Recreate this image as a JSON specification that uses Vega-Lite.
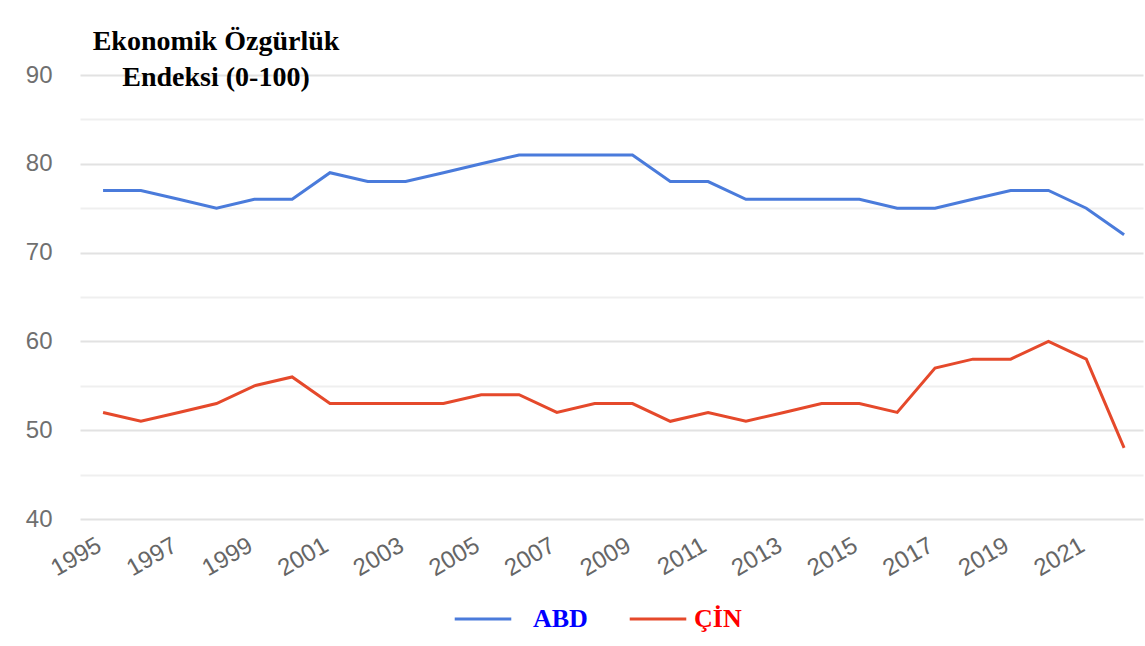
{
  "$schema": "https://vega.github.io/schema/vega-lite/v6.json",
  "width": 1063,
  "height": 444,
  "autosize": {"type": "none"},
  "padding": {"left": 80, "top": 75, "right": 2, "bottom": 127},
  "background": "#ffffff",
  "title": {
    "text": ["Ekonomik Özgürlük", "Endeksi (0-100)"],
    "anchor": "start",
    "frame": "group",
    "align": "center",
    "dx": 136,
    "dy": 57,
    "baseline": "bottom",
    "font": "Liberation Serif",
    "fontSize": 28,
    "fontWeight": "bold",
    "color": "#000000",
    "lineHeight": 36,
    "offset": 0
  },
  "data": {
    "values": [
      {"year": 1995, "country": "ABD", "value": 77},
      {"year": 1996, "country": "ABD", "value": 77},
      {"year": 1997, "country": "ABD", "value": 76},
      {"year": 1998, "country": "ABD", "value": 75},
      {"year": 1999, "country": "ABD", "value": 76},
      {"year": 2000, "country": "ABD", "value": 76},
      {"year": 2001, "country": "ABD", "value": 79},
      {"year": 2002, "country": "ABD", "value": 78},
      {"year": 2003, "country": "ABD", "value": 78},
      {"year": 2004, "country": "ABD", "value": 79},
      {"year": 2005, "country": "ABD", "value": 80},
      {"year": 2006, "country": "ABD", "value": 81},
      {"year": 2007, "country": "ABD", "value": 81},
      {"year": 2008, "country": "ABD", "value": 81},
      {"year": 2009, "country": "ABD", "value": 81},
      {"year": 2010, "country": "ABD", "value": 78},
      {"year": 2011, "country": "ABD", "value": 78},
      {"year": 2012, "country": "ABD", "value": 76},
      {"year": 2013, "country": "ABD", "value": 76},
      {"year": 2014, "country": "ABD", "value": 76},
      {"year": 2015, "country": "ABD", "value": 76},
      {"year": 2016, "country": "ABD", "value": 75},
      {"year": 2017, "country": "ABD", "value": 75},
      {"year": 2018, "country": "ABD", "value": 76},
      {"year": 2019, "country": "ABD", "value": 77},
      {"year": 2020, "country": "ABD", "value": 77},
      {"year": 2021, "country": "ABD", "value": 75},
      {"year": 2022, "country": "ABD", "value": 72},
      {"year": 1995, "country": "ÇİN", "value": 52},
      {"year": 1996, "country": "ÇİN", "value": 51},
      {"year": 1997, "country": "ÇİN", "value": 52},
      {"year": 1998, "country": "ÇİN", "value": 53},
      {"year": 1999, "country": "ÇİN", "value": 55},
      {"year": 2000, "country": "ÇİN", "value": 56},
      {"year": 2001, "country": "ÇİN", "value": 53},
      {"year": 2002, "country": "ÇİN", "value": 53},
      {"year": 2003, "country": "ÇİN", "value": 53},
      {"year": 2004, "country": "ÇİN", "value": 53},
      {"year": 2005, "country": "ÇİN", "value": 54},
      {"year": 2006, "country": "ÇİN", "value": 54},
      {"year": 2007, "country": "ÇİN", "value": 52},
      {"year": 2008, "country": "ÇİN", "value": 53},
      {"year": 2009, "country": "ÇİN", "value": 53},
      {"year": 2010, "country": "ÇİN", "value": 51},
      {"year": 2011, "country": "ÇİN", "value": 52},
      {"year": 2012, "country": "ÇİN", "value": 51},
      {"year": 2013, "country": "ÇİN", "value": 52},
      {"year": 2014, "country": "ÇİN", "value": 53},
      {"year": 2015, "country": "ÇİN", "value": 53},
      {"year": 2016, "country": "ÇİN", "value": 52},
      {"year": 2017, "country": "ÇİN", "value": 57},
      {"year": 2018, "country": "ÇİN", "value": 58},
      {"year": 2019, "country": "ÇİN", "value": 58},
      {"year": 2020, "country": "ÇİN", "value": 60},
      {"year": 2021, "country": "ÇİN", "value": 58},
      {"year": 2022, "country": "ÇİN", "value": 48}
    ]
  },
  "mark": {"type": "line", "strokeWidth": 3, "clip": false},
  "encoding": {
    "x": {
      "field": "year",
      "type": "quantitative",
      "scale": {"domain": [1994.39, 2022.5], "nice": false, "zero": false},
      "axis": {
        "title": null,
        "values": [1995, 1997, 1999, 2001, 2003, 2005, 2007, 2009, 2011, 2013, 2015, 2017, 2019, 2021],
        "format": "d",
        "labelAngle": -30,
        "labelAlign": "right",
        "labelBaseline": "top",
        "labelPadding": 14,
        "labelOffset": -10,
        "labelFont": "Liberation Sans",
        "labelFontSize": 24,
        "labelColor": "#666666",
        "labelOverlap": false,
        "domain": false,
        "ticks": false,
        "grid": false
      }
    },
    "y": {
      "field": "value",
      "type": "quantitative",
      "scale": {"domain": [40, 90], "nice": false, "zero": false},
      "axis": {
        "title": null,
        "values": [40, 45, 50, 55, 60, 65, 70, 75, 80, 85, 90],
        "labelExpr": "datum.value % 10 === 0 ? datum.label : ''",
        "labelFont": "Liberation Sans",
        "labelFontSize": 24,
        "labelColor": "#6f6f6f",
        "labelPadding": 28,
        "domain": false,
        "ticks": false,
        "grid": true,
        "gridWidth": 2,
        "gridColor": {"condition": {"test": "datum.value % 10 === 0", "value": "#e2e2e2"}, "value": "#efefef"}
      }
    },
    "color": {
      "field": "country",
      "type": "nominal",
      "scale": {"domain": ["ABD", "ÇİN"], "range": ["#4a7bdb", "#e5492b"]},
      "legend": {
        "title": null,
        "orient": "none",
        "direction": "horizontal",
        "legendX": 373,
        "legendY": 514,
        "symbolType": "stroke",
        "symbolSize": 3200,
        "symbolStrokeWidth": 3,
        "labelFont": "Liberation Serif",
        "labelFontSize": 26,
        "labelFontWeight": "bold",
        "labelOffset": 20,
        "columnPadding": 35,
        "encode": {
          "labels": {
            "update": {
              "fill": {"signal": "datum.label === 'ABD' ? '#0000ff' : '#ff0000'"},
              "dx": {"signal": "datum.label === 'ABD' ? 0 : -14"}
            }
          }
        }
      }
    }
  },
  "config": {
    "view": {"stroke": null},
    "title": {"font": "Liberation Serif"}
  }
}
